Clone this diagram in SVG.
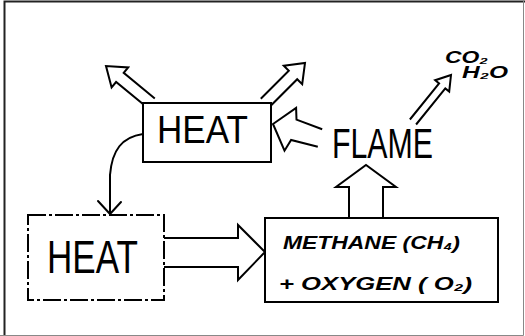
<svg xmlns="http://www.w3.org/2000/svg" width="525" height="336" viewBox="0 0 525 336">
<style>
.ln{fill:none;stroke:#000;stroke-width:2;stroke-linecap:round;stroke-linejoin:round}
.ha{fill:#fff;stroke:#000;stroke-width:2;stroke-linejoin:miter}
.box{fill:#fff;stroke:#000;stroke-width:2}
.big{font-family:"Liberation Sans",Arial,sans-serif;fill:#000}
.it{font-family:"Liberation Sans",Arial,sans-serif;font-style:italic;font-weight:bold;fill:#000}
</style>
<rect x="0" y="0" width="525" height="336" fill="#fff"/>
<path d="M4.5,336 V1.5 H525" fill="none" stroke="#222" stroke-width="2"/>
<path d="M0,335.5 H523.5 V0" fill="none" stroke="#888" stroke-width="1"/>
<g id="connectors">
  <polyline class="ha" points="154.8,98.4 123.7,72.8 128.2,67.4 106,66 111.6,87.4 116.1,82.0 147.2,107.6"/>
  <polyline class="ha" points="269.2,107.2 297.2,79.2 302.2,84.2 305,63 283.8,65.8 288.8,70.8 260.8,98.8"/>
  <polyline class="ha" points="322.2,129.3 296.5,119.6 296.1,107.9 273,124 284.5,150.7 291.1,140.0 317.8,146.7"/>
  <polyline class="ha" points="349,218 349,187 336,187 366,165 396,187 383,187 383,218"/>
  <polyline class="ha" points="164,238 238,238 238,225 265,252 238,280 238,267 164,267"/>
  <polyline class="ha" points="416.1,124.5 445.3,88.4 449.2,91.6 451,75 435.2,80.2 439.1,83.4 409.9,119.5"/>
  <path class="ln" d="M143,134 C122,137 112,150 110,175 L110,213"/>
  <polyline class="ln" points="98,201 110,214 121,202"/>
</g>
<g id="heat-top">
  <rect class="box" x="143" y="103" width="128" height="59"/>
  <text class="big" x="157" y="143" font-size="39" textLength="91" lengthAdjust="spacingAndGlyphs">HEAT</text>
</g>
<g id="heat-bottom">
  <rect class="box" x="28" y="215" width="136" height="85" stroke-dasharray="18,3,3,3"/>
  <text class="big" x="47" y="273" font-size="46" textLength="91" lengthAdjust="spacingAndGlyphs">HEAT</text>
</g>
<g id="mixture">
  <rect class="box" x="265" y="218" width="233" height="84"/>
  <text class="it" x="283" y="249" font-size="18" textLength="177" lengthAdjust="spacingAndGlyphs">METHANE (CH₄)</text>
  <text class="it" x="279" y="290" font-size="18" textLength="193" lengthAdjust="spacingAndGlyphs">+ OXYGEN ( O₂)</text>
</g>
<g id="flame">
  <text class="big" x="332" y="158" font-size="42" textLength="101" lengthAdjust="spacingAndGlyphs">FLAME</text>
</g>
<g id="products">
  <text class="it" x="445" y="63" font-size="16" textLength="43" lengthAdjust="spacingAndGlyphs">CO₂</text>
  <text class="it" x="462" y="78" font-size="16" textLength="46" lengthAdjust="spacingAndGlyphs">H₂O</text>
</g>
</svg>
